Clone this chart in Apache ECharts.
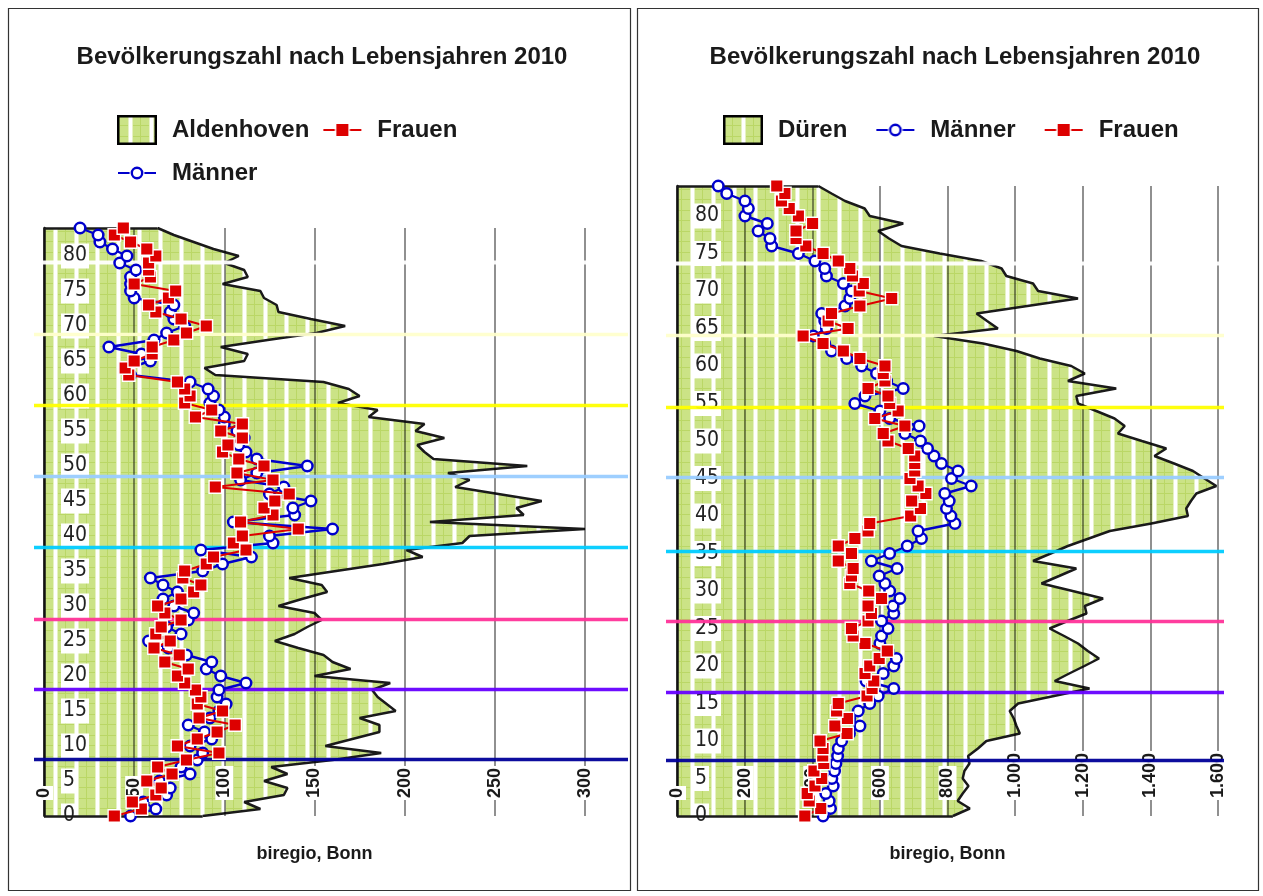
<!DOCTYPE html>
<html><head><meta charset="utf-8">
<script src="https://cdn.jsdelivr.net/npm/echarts@6/dist/echarts.min.js"></script>
<style>html,body{margin:0;padding:0;background:#fff}#c{width:1263px;height:896px}</style>
</head><body><div id="c"></div>
<script>
// ---------- data ----------
const ages = Array.from({length: 85}, (_, i) => String(i)); // Lebensjahre 0..84
const titleText = 'Bevölkerungszahl nach Lebensjahren 2010';
const sourceText = 'biregio, Bonn';

// Aldenhoven (left)
const aldenTotal = [88,120,111,133,135,122,135,126,160,187,
  156,171,186,186,175,195,190,185,182,192,
  150,170,160,155,141,128,139,146,154,150,
  130,143,157,154,136,162,188,210,201,232,
  236,300,214,266,262,276,252,228,236,224,
  268,216,211,207,222,206,211,180,185,163,
  175,169,155,95,89,111,113,98,124,151,
  167,148,130,129,122,120,99,113,111,100,
  108,94,83,72,63];
const aldenMen = [48,62,55,68,70,64,81,76,85,88,
  81,93,89,80,92,97,101,96,97,112,
  98,90,93,79,69,58,76,68,80,83,
  72,66,74,66,59,88,99,115,87,127,
  125,160,105,139,138,148,125,133,109,118,
  146,118,112,108,111,107,100,100,97,92,
  94,91,81,48,47,59,54,36,61,68,
  78,72,70,72,50,48,48,48,51,42,
  46,38,31,30,20];
const aldenWomen = [39,54,49,62,65,57,71,63,79,97,
  74,85,96,106,86,99,85,87,84,78,
  74,80,67,75,61,70,62,65,76,67,
  63,76,83,87,77,78,90,94,112,105,
  110,141,109,127,122,128,136,95,127,107,
  122,108,99,102,110,98,110,84,93,78,
  81,78,74,47,45,50,60,60,72,79,
  90,76,62,58,69,73,50,59,58,58,
  62,57,48,39,44];

// Düren (right)
const duerenTotal = [816,866,830,845,862,845,850,865,861,890,
  915,1014,1004,996,984,1009,1115,1220,1117,1160,
  1205,1248,1215,1186,1145,1102,1155,1211,1206,1260,
  1170,1078,1130,1181,1053,1105,1156,1218,1280,1403,
  1511,1506,1520,1536,1595,1560,1526,1470,1412,1447,
  1375,1304,1324,1294,1240,1186,1181,1299,1156,1206,
  1166,1073,1004,905,760,949,917,886,1036,1186,
  1068,1053,974,960,900,777,664,627,595,669,
  570,555,497,457,418];
const duerenMen = [432,454,450,440,462,458,466,470,475,477,
  487,510,541,511,536,570,595,641,559,610,
  641,649,624,600,605,624,605,641,639,659,
  629,615,598,651,575,629,681,723,713,822,
  810,797,805,792,870,812,831,782,760,741,
  720,674,716,629,600,526,556,669,620,590,
  546,502,457,437,403,442,437,428,497,511,
  516,492,442,437,408,359,280,275,240,267,
  201,211,201,147,122];
const duerenWomen = [378,425,391,385,408,428,405,434,431,432,
  423,503,467,504,472,477,562,577,582,556,
  570,598,622,556,521,516,565,575,565,605,
  567,511,516,521,477,516,477,526,565,570,
  691,720,694,736,713,689,703,703,703,684,
  624,610,674,585,654,629,624,565,615,610,
  615,541,492,432,373,506,447,457,541,635,
  539,551,519,511,477,432,381,352,352,401,
  359,332,309,319,295];

// decorative horizontal bands (in years of the age axis)
const bandColors = ['#ffffff','#ffffcc','#ffff00','#99ccff','#00ccff','#ff3399','#6600ff','#000099'];
const leftBandAges = [79.1, 68.9, 58.7, 48.6, 38.4, 28.1, 18.1, 8.1];
const rightBandAges = [73.7, 64.2, 54.6, 45.2, 35.4, 26.0, 16.6, 7.5];

// ---------- helpers ----------
const FONT = "'Liberation Sans', Arial, Helvetica, sans-serif";
const NARROW = "'Liberation Sans Narrow', 'Arial Narrow', 'DejaVu Sans Condensed', sans-serif";
function fmtDE(v) { return String(v).replace(/\B(?=(\d{3})+(?!\d))/g, '.'); }

function makePattern(stripeX) {
  const c = document.createElement('canvas'); c.width = 21; c.height = 21;
  const g = c.getContext('2d');
  g.fillStyle = '#cbe386'; g.fillRect(0, 0, 21, 21);
  g.fillStyle = '#bad766';
  g.fillRect(0, 0, 21, 1); g.fillRect(0, 10, 21, 1);
  g.fillRect((stripeX + 10) % 21, 0, 1, 21);
  const px = (x, col) => { g.fillStyle = col; g.fillRect(((x % 21) + 21) % 21, 0, 1, 21); };
  px(stripeX - 2, '#e6f1c4'); px(stripeX - 1, '#ffffff'); px(stripeX, '#ffffff'); px(stripeX + 1, '#ffffff'); px(stripeX + 2, '#e6f1c4');
  return c;
}
const patLeft = makePattern(13);
const patRight = makePattern(20);

const ICON_W = 50, ICON_H = 30;
function areaIcon(pat) {
  const c = document.createElement('canvas'); c.width = ICON_W; c.height = ICON_H;
  const g = c.getContext('2d');
  g.fillStyle = g.createPattern(pat, 'repeat');
  g.fillRect(1, 1, 38, 28);
  g.strokeStyle = '#000'; g.lineWidth = 2.5; g.strokeRect(1.25, 1.25, 37.5, 27.5);
  return 'image://' + c.toDataURL();
}
function lineIcon(kind) {
  const c = document.createElement('canvas'); c.width = ICON_W; c.height = ICON_H;
  const g = c.getContext('2d');
  const col = kind === 'sq' ? '#dd0000' : '#0000cc';
  g.strokeStyle = col; g.lineWidth = 2.2;
  g.beginPath(); g.moveTo(1, 15); g.lineTo(39, 15); g.stroke();
  if (kind === 'sq') {
    g.fillStyle = '#fff'; g.fillRect(12.5, 7.5, 15, 15);
    g.fillStyle = col; g.fillRect(14, 9, 12, 12);
  } else {
    g.fillStyle = '#fff'; g.beginPath(); g.arc(20, 15, 7.5, 0, Math.PI * 2); g.fill();
    g.strokeStyle = col; g.lineWidth = 2.4; g.beginPath(); g.arc(20, 15, 5.2, 0, Math.PI * 2); g.stroke();
  }
  return 'image://' + c.toDataURL();
}

// ---------- chart ----------
const chart = echarts.init(document.getElementById('c'));

function xAxisCfg(grid, max, interval) {
  return {
    type: 'value', gridIndex: grid, min: 0, max: max, interval: interval, z: 3,
    axisLine: {show: false}, axisTick: {show: false},
    splitLine: {show: true, lineStyle: {color: 'rgba(0,0,0,0.58)', width: 1.5}},
    axisLabel: {inside: true, rotate: 90, margin: 16, fontFamily: FONT, fontWeight: 'bold', fontSize: 18,
      color: '#1a1a1a', backgroundColor: '#fff', padding: [0, 2, 0, 2], formatter: fmtDE},
    name: sourceText, nameLocation: 'middle', nameGap: 29,
    nameTextStyle: {fontFamily: FONT, fontWeight: 'bold', fontSize: 18, color: '#1a1a1a'}
  };
}
function yAxisCfg(grid, margin) {
  return {
    type: 'category', gridIndex: grid, data: ages, boundaryGap: false, z: 3,
    axisLine: {show: true, lineStyle: {color: '#111', width: 2.5}},
    axisTick: {show: false}, splitLine: {show: false},
    axisLabel: {inside: true, margin: margin, fontFamily: NARROW, fontSize: 21, color: '#222',
      backgroundColor: '#fff', padding: [8, 2, 0, 2], lineHeight: 17,
      interval: (i) => i % 5 === 0 && i <= 80}
  };
}
function areaSeries(idx, data, pat, name) {
  return {
    name: name, type: 'line', xAxisIndex: idx, yAxisIndex: idx, data: data, z: 2,
    symbol: 'none', lineStyle: {color: '#1a1a1a', width: 2.5}, itemStyle: {color: '#cbe386'},
    areaStyle: {color: {image: pat, repeat: 'repeat'}, opacity: 1},
    markLine: {silent: true, symbol: 'none', label: {show: false}, animation: false,
      lineStyle: {color: '#1a1a1a', width: 2.5, type: 'solid'},
      data: [[{coord: [0, 0]}, {coord: [data[0], 0]}],
             [{coord: [0, data.length - 1]}, {coord: [data[data.length - 1], data.length - 1]}]]}
  };
}
function menSeries(idx, data) {
  return {
    name: 'Männer', type: 'line', xAxisIndex: idx, yAxisIndex: idx, data: data, z: 5, clip: false,
    showAllSymbol: true, symbol: 'circle', symbolSize: 10.5,
    lineStyle: {color: '#0000cc', width: 2.4},
    itemStyle: {color: '#fff', borderColor: '#0000cc', borderWidth: 2.5}
  };
}
function womenSeries(idx, data) {
  return {
    name: 'Frauen', type: 'line', xAxisIndex: idx, yAxisIndex: idx, data: data, z: 6, clip: false,
    showAllSymbol: true, symbol: 'rect', symbolSize: 12.5,
    lineStyle: {color: '#dd0000', width: 2.2},
    itemStyle: {color: '#dd0000', borderColor: '#fff', borderWidth: 1.4}
  };
}

const legendText = {fontFamily: FONT, fontWeight: 'bold', fontSize: 24, color: '#1a1a1a'};
const titleStyle = {fontFamily: FONT, fontWeight: 'bold', fontSize: 24, color: '#1a1a1a'};

chart.setOption({
  animation: false,
  backgroundColor: '#fff',
  title: [
    {text: titleText, left: 317, top: 40, textAlign: 'center', textStyle: titleStyle},
    {text: titleText, left: 950, top: 40, textAlign: 'center', textStyle: titleStyle}
  ],
  legend: [
    {left: 117, top: 115, width: 360, padding: 0, itemGap: 13, itemWidth: ICON_W, itemHeight: ICON_H,
     textStyle: legendText, selectedMode: false,
     data: [{name: 'Aldenhoven', icon: areaIcon(patLeft)}, {name: 'Frauen', icon: lineIcon('sq')}, {name: 'Männer', icon: lineIcon('ci')}]},
    {left: 723, top: 115, padding: 0, itemGap: 28, itemWidth: ICON_W, itemHeight: ICON_H,
     textStyle: legendText, selectedMode: false,
     data: [{name: 'Düren', icon: areaIcon(patRight)}, {name: 'Männer', icon: lineIcon('ci')}, {name: 'Frauen', icon: lineIcon('sq')}]}
  ],
  grid: [
    {left: 44, top: 228, width: 541, height: 588},
    {left: 677, top: 186, width: 541, height: 630}
  ],
  xAxis: [xAxisCfg(0, 300, 50), xAxisCfg(1, 1600, 200)],
  yAxis: [yAxisCfg(0, 17), yAxisCfg(1, 16)],
  series: [
    areaSeries(0, aldenTotal, patLeft, 'Aldenhoven'),
    menSeries(0, aldenMen),
    womenSeries(0, aldenWomen),
    areaSeries(1, duerenTotal, patRight, 'Düren'),
    menSeries(1, duerenMen),
    womenSeries(1, duerenWomen)
  ]
});

// decorative bands + panel frames
function ageToY(axisIdx, age) {
  const y0 = chart.convertToPixel({yAxisIndex: axisIdx}, 0);
  const y1 = chart.convertToPixel({yAxisIndex: axisIdx}, ages.length - 1);
  return y0 + (y1 - y0) * age / (ages.length - 1);
}
const gfx = [];
leftBandAges.forEach((a, i) => {
  const y = Math.round(ageToY(0, a)) + 0.5;
  gfx.push({type: 'line', z: 4, silent: true, shape: {x1: 34, y1: y, x2: 628, y2: y},
    style: {stroke: bandColors[i], lineWidth: i === 0 ? 4 : 3.5, opacity: 0.95}});
});
rightBandAges.forEach((a, i) => {
  const y = Math.round(ageToY(1, a)) + 0.5;
  gfx.push({type: 'line', z: 4, silent: true, shape: {x1: 666, y1: y, x2: 1224, y2: y},
    style: {stroke: bandColors[i], lineWidth: i === 0 ? 4 : 3.5, opacity: 0.95}});
});
gfx.push({type: 'rect', z: 10, silent: true, shape: {x: 8.5, y: 8.5, width: 622, height: 882},
  style: {fill: null, stroke: '#333', lineWidth: 1.2}});
gfx.push({type: 'rect', z: 10, silent: true, shape: {x: 637.5, y: 8.5, width: 621, height: 882},
  style: {fill: null, stroke: '#333', lineWidth: 1.2}});
chart.setOption({graphic: gfx});
</script>
</body></html>
